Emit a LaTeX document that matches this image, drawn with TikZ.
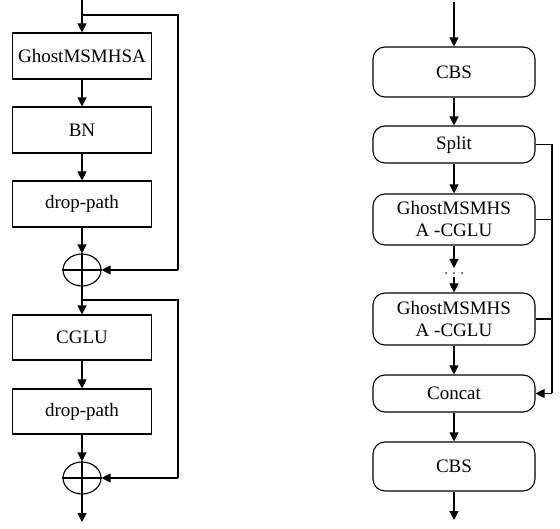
\documentclass[tikz,border=0pt]{standalone}
\usepackage{fontspec}
\setmainfont{Liberation Serif}
\usetikzlibrary{arrows.meta,shapes.geometric}
\begin{document}
\begin{tikzpicture}[x=1pt,y=-1pt,
  every path/.style={line width=1.1pt},
  arr/.style={-{Triangle[width=9pt,length=9pt]}},
  lbox/.style={draw,minimum width=139pt,inner sep=0pt,font=\fontsize{19}{22}\selectfont},
  rbox/.style={draw,rounded corners=12pt,minimum width=162pt,inner sep=0pt,align=center,font=\fontsize{19}{22}\selectfont},
  addc/.style={draw,ellipse,minimum width=38pt,minimum height=32pt,inner sep=0pt},
  dotc/.style={fill,circle,inner sep=0pt,minimum size=1.8pt}]
\useasboundingbox (0,0) rectangle (560,529);
% left column
\coordinate (lin) at (82,0);
\coordinate (lb1) at (82,15);
\node[lbox,minimum height=46pt] (gh) at (82,56) {GhostMSMHSA};
\node[lbox,minimum height=46pt] (bn) at (82,130) {BN};
\node[lbox,minimum height=46pt] (dp1) at (82,204) {drop-path};
\node[addc] (c1) at (82,270) {};
\draw[line width=2pt] (c1.north) -- (c1.south) (c1.west) -- (c1.east);
\coordinate (lb2) at (82,300);
\node[lbox,minimum height=45pt] (cglu) at (82,337.5) {CGLU};
\node[lbox,minimum height=45pt] (dp2) at (82,411.5) {drop-path};
\node[addc] (c2) at (82,478) {};
\draw[line width=2pt] (c2.north) -- (c2.south) (c2.west) -- (c2.east);
\coordinate (lout) at (82,522);
\draw[arr] (lin) -- (gh.north);
\draw (lb1) -- (178,15) -- (178,270) coordinate (r1);
\draw[arr] (r1) -- (c1.east);
\draw[arr] (gh) -- (bn);
\draw[arr] (bn) -- (dp1);
\draw[arr] (dp1) -- (c1.north);
\draw[arr] (c1.south) -- (cglu.north);
\draw (lb2) -- (178,300) -- (178,478) coordinate (r2);
\draw[arr] (r2) -- (c2.east);
\draw[arr] (cglu) -- (dp2);
\draw[arr] (dp2) -- (c2.north);
\draw[arr] (c2.south) -- (lout);
% right column
\coordinate (rin) at (454,2);
\node[rbox,minimum height=50pt] (cbs1) at (454,72) {CBS};
\node[rbox,minimum height=37pt] (split) at (454,144.5) {Split};
\node[rbox,minimum height=51pt] (g1) at (454,219.5) {GhostMSMHS\\ A -CGLU};
\node[dotc] (dA) at (446,273) {};
\node[dotc] (dB) at (454,273) {};
\node[dotc] (dC) at (462,273) {};
\coordinate (d1) at (454,268);
\coordinate (d2) at (454,277);
\node[rbox,minimum height=52pt] (g2) at (454,319) {GhostMSMHS\\ A -CGLU};
\node[rbox,minimum height=37pt] (concat) at (454,393.5) {Concat};
\node[rbox,minimum height=49pt] (cbs2) at (454,466.5) {CBS};
\coordinate (rout) at (454,520);
\draw[arr] (rin) -- (cbs1.north);
\draw[arr] (cbs1) -- (split);
\draw[arr] (split) -- (g1);
\draw[arr] (g1.south) -- (d1);
\draw[arr] (d2) -- (g2.north);
\draw[arr] (g2) -- (concat);
\draw[arr] (concat) -- (cbs2);
\draw[arr] (cbs2.south) -- (rout);
\coordinate (s1) at (552,144.5);
\coordinate (s2) at (552,219.5);
\coordinate (s3) at (552,319);
\coordinate (s4) at (552,393.5);
\draw (split.east) -- (s1) -- (s4);
\draw (g1.east) -- (s2);
\draw (g2.east) -- (s3);
\draw[arr] (s4) -- (concat.east);
\end{tikzpicture}
\end{document}
